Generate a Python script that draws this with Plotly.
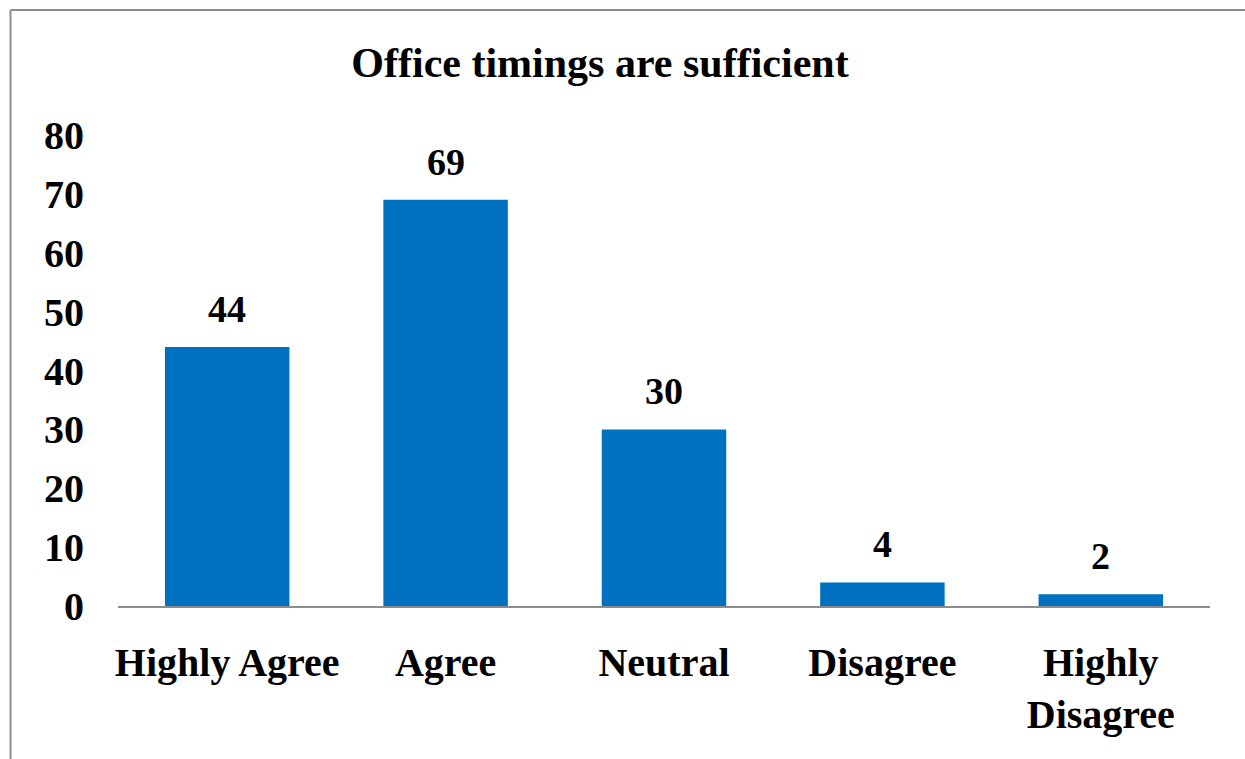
import plotly.graph_objects as go

categories = ["Highly Agree", "Agree", "Neutral", "Disagree", "Highly<br>Disagree"]
values = [44, 69, 30, 4, 2]
y_ticks = [0, 10, 20, 30, 40, 50, 60, 70, 80]

W, H = 1245, 759
L, R, T, B = 118, 35, 135, 153
pw, ph = W - L - R, H - T - B

FONT = "Liberation Serif"
BAR = "#0070C0"
GRAY = "#8C8C8C"

fig = go.Figure(go.Bar(x=categories, y=values, marker=dict(color=BAR, line=dict(width=0)), width=0.57))

for c, v in zip(categories, values):
    fig.add_annotation(x=c, y=v, text=str(v), showarrow=False, yanchor="bottom", yshift=15,
                       font=dict(family=FONT, size=38, color="black", weight="bold"))

def px_x(p):
    return (p - L) / pw

def px_y(p):
    return (H - B - p) / ph

fig.add_shape(type="line", xref="paper", yref="paper", x0=px_x(10.5), x1=px_x(10.5), y0=px_y(10), y1=px_y(H + 5),
              line=dict(color=GRAY, width=2))
fig.add_shape(type="line", xref="paper", yref="paper", x0=px_x(10.5), x1=px_x(W + 5), y0=px_y(10), y1=px_y(10),
              line=dict(color=GRAY, width=2))

fig.update_layout(
    width=W, height=H,
    margin=dict(l=L, r=R, t=T, b=B, autoexpand=False),
    paper_bgcolor="white", plot_bgcolor="white",
    showlegend=False,
    bargap=0.43,
    title=dict(text="Office timings are sufficient", x=600 / W, xanchor="center", y=1 - 62 / H, yanchor="middle",
               font=dict(family=FONT, size=42, color="black", weight="bold")),
    xaxis=dict(showline=True, linecolor=GRAY, linewidth=2, ticks="", tickangle=0, showgrid=False,
               tickfont=dict(family=FONT, size=40, color="black", weight="bold"), ticklabelstandoff=20),
    yaxis=dict(range=[0, 80], tickvals=y_ticks, showgrid=False, zeroline=False, showline=False, ticks="",
               tickfont=dict(family=FONT, size=40, color="black", weight="bold"), ticklabelstandoff=33),
)

fig.write_html("out.html", config={"displayModeBar": False},
               post_script="document.body.style.margin='0';document.body.style.overflow='hidden';")
